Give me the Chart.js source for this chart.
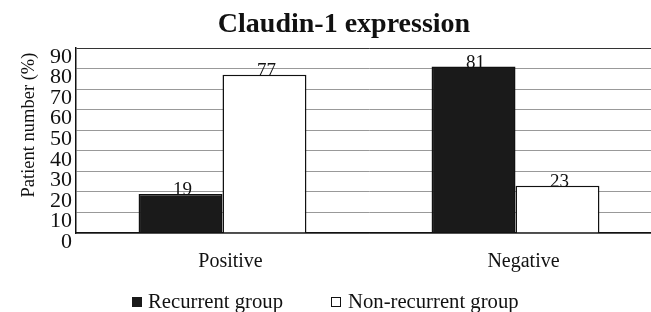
<!DOCTYPE html>
<html>
<head>
<meta charset="utf-8">
<script src="https://cdn.jsdelivr.net/npm/chart.js@4.4.1/dist/chart.umd.min.js"></script>
<style>
    html, body { margin: 0; padding: 0; background: #fff; overflow: hidden; }
    #wrap { width: 651px; height: 312px; overflow: hidden; }
</style>
</head>
<body>
<div id="wrap"><canvas id="chart" width="664" height="312"></canvas></div>
<script>
// Gegevens
const categories = ['Positive', 'Negative'];
const recurrent = [19, 81];
const nonRecurrent = [77, 23];
const seriesNames = ['Recurrent group', 'Non-recurrent group'];
const chartTitle = 'Claudin-1 expression';
const yTitle = 'Patient number (%)';

const SERIF = '"Liberation Serif", "DejaVu Serif", serif';

// Titel, y-as titel, waardelabels en legenda
const extras = {
    id: 'extras',
    afterDatasetsDraw(chart) {
        const ctx = chart.ctx;
        ctx.save();
        ctx.fillStyle = '#111';

        // waarden boven de staven
        ctx.font = '19px ' + SERIF;
        ctx.textAlign = 'center';
        ctx.textBaseline = 'alphabetic';
        chart.data.datasets.forEach((ds, i) => {
            chart.getDatasetMeta(i).data.forEach((bar, j) => {
                ctx.fillText(ds.data[j], bar.x + 2, bar.y + 1);
            });
        });

        // titel
        ctx.font = 'bold 28px ' + SERIF;
        ctx.fillText(chartTitle, 344, 32);

        // y-as titel
        ctx.save();
        ctx.translate(29, 125);
        ctx.rotate(-Math.PI / 2);
        ctx.font = '18.5px ' + SERIF;
        ctx.textBaseline = 'middle';
        ctx.fillText(yTitle, 0, 0);
        ctx.restore();

        // legenda
        ctx.font = '20.7px ' + SERIF;
        ctx.textAlign = 'left';
        ctx.fillStyle = '#1a1a1a';
        ctx.fillRect(132, 297, 10, 10);
        ctx.fillStyle = '#111';
        ctx.fillText(seriesNames[0], 148, 308);
        ctx.strokeStyle = '#111';
        ctx.lineWidth = 1;
        ctx.strokeRect(331.5, 297.5, 9, 9);
        ctx.fillText(seriesNames[1], 348, 308);
        ctx.restore();
    }
};

new Chart(document.getElementById('chart'), {
    type: 'bar',
    data: {
        labels: categories,
        datasets: [{
            label: seriesNames[0],
            data: recurrent,
            backgroundColor: '#1a1a1a',
            borderColor: '#111',
            borderWidth: 1.5,
            barPercentage: 1,
            categoryPercentage: 0.573
        }, {
            label: seriesNames[1],
            data: nonRecurrent,
            backgroundColor: '#ffffff',
            borderColor: '#111',
            borderWidth: 1.5,
            barPercentage: 1,
            categoryPercentage: 0.573
        }]
    },
    options: {
        responsive: false,
        animation: false,
        layout: { padding: { top: 48, right: 2, left: 0, bottom: 0 } },
        plugins: {
            legend: { display: false },
            title: { display: false },
            tooltip: { enabled: false }
        },
        scales: {
            x: {
                grid: { display: false, drawTicks: false },
                border: { color: '#111', width: 1.5 },
                ticks: {
                    color: '#111',
                    font: { family: SERIF, size: 20 },
                    padding: 17,
                    labelOffset: 8
                },
                afterFit(scale) { scale.height = 79; }
            },
            y: {
                min: 0,
                max: 90,
                grid: {
                    color: (c) => c.tick && c.tick.value === 90 ? '#333' : '#999',
                    lineWidth: 1,
                    drawTicks: false
                },
                border: { color: '#111', width: 1.5 },
                ticks: {
                    stepSize: 10,
                    autoSkip: false,
                    color: '#111',
                    font: { family: SERIF, size: 22 },
                    padding: 4,
                    labelOffset: 9
                },
                afterFit(scale) { scale.width = 76; }
            }
        }
    },
    plugins: [extras]
});
</script>
</body>
</html>
